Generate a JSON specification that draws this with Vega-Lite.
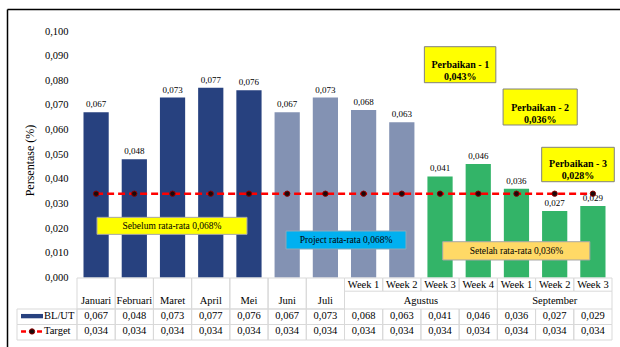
{
  "$schema": "https://vega.github.io/schema/vega-lite/v6.json",
  "width": 544,
  "height": 339,
  "autosize": {"type": "none"},
  "padding": {"left": 77, "top": 9, "right": 0, "bottom": 0},
  "background": "white",
  "config": {
    "view": {"stroke": null},
    "locale": {"number": {"decimal": ",", "thousands": ".", "grouping": [3], "currency": ["", ""]}},
    "text": {"font": "Liberation Serif", "color": "#000000"}
  },
  "datasets": {
    "main": [
      {"col": "Januari", "month": "Januari", "week": null, "phase": "Sebelum", "bl": 0.067, "target": 0.034},
      {"col": "Februari", "month": "Februari", "week": null, "phase": "Sebelum", "bl": 0.048, "target": 0.034},
      {"col": "Maret", "month": "Maret", "week": null, "phase": "Sebelum", "bl": 0.073, "target": 0.034},
      {"col": "April", "month": "April", "week": null, "phase": "Sebelum", "bl": 0.077, "target": 0.034},
      {"col": "Mei", "month": "Mei", "week": null, "phase": "Sebelum", "bl": 0.076, "target": 0.034},
      {"col": "Juni", "month": "Juni", "week": null, "phase": "Project", "bl": 0.067, "target": 0.034},
      {"col": "Juli", "month": "Juli", "week": null, "phase": "Project", "bl": 0.073, "target": 0.034},
      {"col": "Agustus Week 1", "month": "Agustus", "week": "Week 1", "phase": "Project", "bl": 0.068, "target": 0.034},
      {"col": "Agustus Week 2", "month": "Agustus", "week": "Week 2", "phase": "Project", "bl": 0.063, "target": 0.034},
      {"col": "Agustus Week 3", "month": "Agustus", "week": "Week 3", "phase": "Setelah", "bl": 0.041, "target": 0.034},
      {"col": "Agustus Week 4", "month": "Agustus", "week": "Week 4", "phase": "Setelah", "bl": 0.046, "target": 0.034},
      {"col": "September Week 1", "month": "September", "week": "Week 1", "phase": "Setelah", "bl": 0.036, "target": 0.034},
      {"col": "September Week 2", "month": "September", "week": "Week 2", "phase": "Setelah", "bl": 0.027, "target": 0.034},
      {"col": "September Week 3", "month": "September", "week": "Week 3", "phase": "Setelah", "bl": 0.029, "target": 0.034}
    ],
    "legend": [{"series": "BL/UT"}, {"series": "Target"}]
  },
  "resolve": {"scale": {"x": "independent", "y": "independent"}},
  "layer": [
    {
      "data": {"values": [{"frame": "border"}]},
      "mark": {"type": "point", "opacity": 0},
      "encoding": {
        "x": {"datum": 0, "type": "quantitative", "scale": {"domain": [0, 1], "range": [-70, 544], "nice": false, "zero": false},
              "axis": {"orient": "top", "domain": true, "domainColor": "#000000", "domainWidth": 1.5, "labels": false, "ticks": false, "grid": false, "title": null}},
        "y": {"datum": 0, "type": "quantitative", "scale": {"domain": [0, 1], "range": [0, 339], "nice": false, "zero": false},
              "axis": {"orient": "left", "offset": 70, "domain": true, "domainColor": "#000000", "domainWidth": 1.5, "labels": false, "ticks": false, "grid": false, "title": null}}
      }
    },
    {
      "data": {"name": "main"},
      "mark": {"type": "bar"},
      "encoding": {
        "x": {"field": "col", "type": "nominal", "sort": null, "axis": null, "scale": {"type": "band", "domain": ["Januari","Februari","Maret","April","Mei","Juni","Juli","Agustus Week 1","Agustus Week 2","Agustus Week 3","Agustus Week 4","September Week 1","September Week 2","September Week 3"], "range": [0, 535], "paddingInner": 0.34, "paddingOuter": 0.17}},
        "y": {
          "field": "bl", "type": "quantitative",
          "scale": {"domain": [0, 0.1], "range": [268.5, 22], "nice": false, "zero": true},
          "axis": {
            "orient": "left",
            "values": [0, 0.01, 0.02, 0.03, 0.04, 0.05, 0.06, 0.07, 0.08, 0.09, 0.1],
            "format": ".3f", "ticks": false, "domain": false, "grid": false,
            "labelFont": "Liberation Serif", "labelFontSize": 10.5, "labelColor": "#000000", "labelPadding": 9,
            "title": "Persentase (%)", "titleFont": "Liberation Serif", "titleFontSize": 12, "titleFontWeight": "normal", "titleColor": "#000000",
            "titleX": -47.5, "titleY": 151, "titleAngle": -90, "titleAlign": "center", "titleBaseline": "middle"
          }
        },
        "color": {"field": "phase", "type": "nominal", "legend": null, "scale": {"domain": ["Sebelum", "Project", "Setelah"], "range": ["#27417F", "#8392B3", "#33B468"]}}
      }
    },
    {
      "data": {"name": "main"},
      "layer": [
        {
          "mark": {"type": "rect", "fill": "transparent", "stroke": "#D9D9D9", "strokeWidth": 1},
          "encoding": {
            "x": {"field": "col", "type": "nominal", "sort": null, "axis": null, "scale": {"type": "band", "domain": ["Januari","Februari","Maret","April","Mei","Juni","Juli","Agustus Week 1","Agustus Week 2","Agustus Week 3","Agustus Week 4","September Week 1","September Week 2","September Week 3"], "range": [0, 535], "paddingInner": 0, "paddingOuter": 0}},
            "y": {"datum": 2, "type": "quantitative", "axis": null, "scale": {"domain": [0, 4], "range": [269, 331], "nice": false, "zero": false}},
            "y2": {"datum": 3}
          }
        },
        {
          "mark": {"type": "rect", "fill": "transparent", "stroke": "#D9D9D9", "strokeWidth": 1},
          "encoding": {
            "x": {"field": "col", "type": "nominal", "sort": null, "axis": null},
            "y": {"datum": 3, "type": "quantitative", "axis": null},
            "y2": {"datum": 4}
          }
        },
        {
          "transform": [{"filter": "datum.week == null"}],
          "mark": {"type": "rect", "fill": "transparent", "stroke": "#D9D9D9", "strokeWidth": 1},
          "encoding": {
            "x": {"field": "col", "type": "nominal", "sort": null, "axis": null},
            "y": {"datum": 0, "type": "quantitative", "axis": null},
            "y2": {"datum": 2}
          }
        },
        {
          "transform": [{"filter": "datum.week != null"}],
          "mark": {"type": "rect", "fill": "transparent", "stroke": "#D9D9D9", "strokeWidth": 1},
          "encoding": {
            "x": {"field": "col", "type": "nominal", "sort": null, "axis": null},
            "y": {"datum": 0, "type": "quantitative", "axis": null},
            "y2": {"datum": 0.85}
          }
        },
        {
          "transform": [{"filter": "datum.col == 'Agustus Week 4' || datum.col == 'September Week 3'"}],
          "mark": {"type": "rule", "stroke": "#D9D9D9", "strokeWidth": 1},
          "encoding": {
            "x": {"field": "col", "type": "nominal", "sort": null, "axis": null, "bandPosition": 1},
            "y": {"datum": 0.85, "type": "quantitative", "axis": null},
            "y2": {"datum": 2}
          }
        },
        {
          "transform": [{"filter": "datum.week != null"}],
          "mark": {"type": "text", "font": "Liberation Serif", "fontSize": 10.5, "baseline": "middle", "align": "center"},
          "encoding": {
            "x": {"field": "col", "type": "nominal", "sort": null, "axis": null},
            "y": {"datum": 0.45, "type": "quantitative", "axis": null},
            "text": {"field": "week"}
          }
        },
        {
          "transform": [{"filter": "datum.week == null"}],
          "mark": {"type": "text", "font": "Liberation Serif", "fontSize": 10.5, "baseline": "middle", "align": "center"},
          "encoding": {
            "x": {"field": "col", "type": "nominal", "sort": null, "axis": null},
            "y": {"datum": 1.5, "type": "quantitative", "axis": null},
            "text": {"field": "month"}
          }
        },
        {
          "mark": {"type": "text", "font": "Liberation Serif", "fontSize": 10.5, "baseline": "middle", "align": "center"},
          "encoding": {
            "x": {"field": "col", "type": "nominal", "sort": null, "axis": null},
            "y": {"datum": 2.48, "type": "quantitative", "axis": null},
            "text": {"field": "bl", "type": "quantitative", "format": ".3f"}
          }
        },
        {
          "mark": {"type": "text", "font": "Liberation Serif", "fontSize": 10.5, "baseline": "middle", "align": "center"},
          "encoding": {
            "x": {"field": "col", "type": "nominal", "sort": null, "axis": null},
            "y": {"datum": 3.45, "type": "quantitative", "axis": null},
            "text": {"field": "target", "type": "quantitative", "format": ".3f"}
          }
        }
      ]
    },
    {
      "data": {"name": "main"},
      "transform": [
        {"window": [{"op": "row_number", "as": "idx"}]},
        {"filter": "datum.week != null"},
        {"aggregate": [{"op": "mean", "field": "idx", "as": "mid"}], "groupby": ["month"]}
      ],
      "mark": {"type": "text", "font": "Liberation Serif", "fontSize": 10.5, "baseline": "middle", "align": "center"},
      "encoding": {
        "x": {"field": "mid", "type": "quantitative", "axis": null, "scale": {"domain": [0.5, 14.5], "range": [0, 535], "nice": false, "zero": false}},
        "y": {"datum": 1.5, "type": "quantitative", "axis": null, "scale": {"domain": [0, 4], "range": [269, 331], "nice": false, "zero": false}},
        "text": {"field": "month"}
      }
    },
    {
      "data": {"name": "legend"},
      "layer": [
        {
          "transform": [{"filter": "datum.series == 'BL/UT'"}],
          "mark": {"type": "rect", "fill": "transparent", "stroke": "#D9D9D9", "strokeWidth": 1},
          "encoding": {
            "x": {"datum": 0, "type": "quantitative", "axis": null, "scale": {"domain": [0, 1], "range": [-60, 0], "nice": false, "zero": false}},
            "x2": {"datum": 1},
            "y": {"datum": 2, "type": "quantitative", "axis": null, "scale": {"domain": [0, 4], "range": [269, 331], "nice": false, "zero": false}},
            "y2": {"datum": 3}
          }
        },
        {
          "transform": [{"filter": "datum.series == 'Target'"}],
          "mark": {"type": "rect", "fill": "transparent", "stroke": "#D9D9D9", "strokeWidth": 1},
          "encoding": {
            "x": {"datum": 0, "type": "quantitative", "axis": null},
            "x2": {"datum": 1},
            "y": {"datum": 3, "type": "quantitative", "axis": null},
            "y2": {"datum": 4}
          }
        },
        {
          "transform": [{"filter": "datum.series == 'BL/UT'"}],
          "mark": {"type": "rect", "fill": "#27417F"},
          "encoding": {
            "x": {"datum": 0.067, "type": "quantitative", "axis": null},
            "x2": {"datum": 0.433},
            "y": {"datum": 2.32, "type": "quantitative", "axis": null},
            "y2": {"datum": 2.6}
          }
        },
        {
          "transform": [{"filter": "datum.series == 'Target'"}],
          "mark": {"type": "rule", "stroke": "#FF0000", "strokeWidth": 2.5, "strokeDash": [5, 3]},
          "encoding": {
            "x": {"datum": 0.067, "type": "quantitative", "axis": null},
            "x2": {"datum": 0.433},
            "y": {"datum": 3.45, "type": "quantitative", "axis": null}
          }
        },
        {
          "transform": [{"filter": "datum.series == 'Target'"}],
          "mark": {"type": "point", "filled": true, "fill": "#1A0A0A", "stroke": "#8B0000", "strokeWidth": 1, "size": 28, "opacity": 1},
          "encoding": {
            "x": {"datum": 0.25, "type": "quantitative", "axis": null},
            "y": {"datum": 3.45, "type": "quantitative", "axis": null}
          }
        },
        {
          "transform": [{"filter": "datum.series == 'BL/UT'"}],
          "mark": {"type": "text", "font": "Liberation Serif", "fontSize": 10.5, "baseline": "middle", "align": "left"},
          "encoding": {
            "x": {"datum": 0.45, "type": "quantitative", "axis": null},
            "y": {"datum": 2.48, "type": "quantitative", "axis": null},
            "text": {"field": "series"}
          }
        },
        {
          "transform": [{"filter": "datum.series == 'Target'"}],
          "mark": {"type": "text", "font": "Liberation Serif", "fontSize": 10.5, "baseline": "middle", "align": "left"},
          "encoding": {
            "x": {"datum": 0.45, "type": "quantitative", "axis": null},
            "y": {"datum": 3.45, "type": "quantitative", "axis": null},
            "text": {"field": "series"}
          }
        }
      ]
    },
    {
      "data": {"name": "main"},
      "layer": [
        {
          "mark": {"type": "text", "font": "Liberation Serif", "fontSize": 9, "baseline": "middle", "align": "center", "dy": -8},
          "encoding": {
            "x": {"field": "col", "type": "nominal", "sort": null, "axis": null, "scale": {"type": "band", "domain": ["Januari","Februari","Maret","April","Mei","Juni","Juli","Agustus Week 1","Agustus Week 2","Agustus Week 3","Agustus Week 4","September Week 1","September Week 2","September Week 3"], "range": [0, 535], "paddingInner": 0.34, "paddingOuter": 0.17}},
            "y": {"field": "bl", "type": "quantitative", "axis": null, "scale": {"domain": [0, 0.1], "range": [268.5, 22], "nice": false, "zero": true}},
            "text": {"field": "bl", "type": "quantitative", "format": ".3f"}
          }
        },
        {
          "mark": {"type": "line", "stroke": "#FF0000", "strokeWidth": 2.5, "strokeDash": [7, 4]},
          "encoding": {
            "x": {"field": "col", "type": "nominal", "sort": null, "axis": null},
            "y": {"field": "target", "type": "quantitative", "axis": null}
          }
        },
        {
          "mark": {"type": "point", "filled": true, "fill": "#1A0A0A", "stroke": "#8B0000", "strokeWidth": 1, "size": 28, "opacity": 1},
          "encoding": {
            "x": {"field": "col", "type": "nominal", "sort": null, "axis": null},
            "y": {"field": "target", "type": "quantitative", "axis": null}
          }
        }
      ]
    },
    {
      "layer": [
        {
          "data": {"values": [{"label": "Sebelum rata-rata 0,068%"}]},
          "mark": {"type": "rect", "fill": "#FFFF00", "stroke": "#A6A6A6", "strokeWidth": 1},
          "encoding": {
            "x": {"datum": 0.523, "type": "quantitative", "axis": null, "scale": {"domain": [0, 14], "range": [0, 535], "nice": false, "zero": false}},
            "x2": {"datum": 4.449},
            "y": {"datum": 0.0244, "type": "quantitative", "axis": null, "scale": {"domain": [0, 0.1], "range": [268.5, 22], "nice": false, "zero": false}},
            "y2": {"datum": 0.0175}
          }
        },
        {
          "data": {"values": [{"label": "Sebelum rata-rata 0,068%"}]},
          "mark": {"type": "text", "font": "Liberation Serif", "fontSize": 9.5, "baseline": "middle", "align": "center"},
          "encoding": {
            "x": {"datum": 2.486, "type": "quantitative", "axis": null},
            "y": {"datum": 0.0209, "type": "quantitative", "axis": null},
            "text": {"field": "label"}
          }
        },
        {
          "data": {"values": [{"label": "Project rata-rata 0,068%"}]},
          "mark": {"type": "rect", "fill": "#00B0F0", "stroke": "#8FA8B8", "strokeWidth": 1},
          "encoding": {
            "x": {"datum": 5.469, "type": "quantitative", "axis": null},
            "x2": {"datum": 8.61},
            "y": {"datum": 0.01886, "type": "quantitative", "axis": null},
            "y2": {"datum": 0.01156}
          }
        },
        {
          "data": {"values": [{"label": "Project rata-rata 0,068%"}]},
          "mark": {"type": "text", "font": "Liberation Serif", "fontSize": 9.5, "baseline": "middle", "align": "center"},
          "encoding": {
            "x": {"datum": 7.04, "type": "quantitative", "axis": null},
            "y": {"datum": 0.0152, "type": "quantitative", "axis": null},
            "text": {"field": "label"}
          }
        },
        {
          "data": {"values": [{"label": "Setelah rata-rata 0,036%"}]},
          "mark": {"type": "rect", "fill": "#FFD966", "stroke": "#A6A6A6", "strokeWidth": 1},
          "encoding": {
            "x": {"datum": 9.57, "type": "quantitative", "axis": null},
            "x2": {"datum": 13.42},
            "y": {"datum": 0.01452, "type": "quantitative", "axis": null},
            "y2": {"datum": 0.0071}
          }
        },
        {
          "data": {"values": [{"label": "Setelah rata-rata 0,036%"}]},
          "mark": {"type": "text", "font": "Liberation Serif", "fontSize": 9.5, "baseline": "middle", "align": "center"},
          "encoding": {
            "x": {"datum": 11.5, "type": "quantitative", "axis": null},
            "y": {"datum": 0.0108, "type": "quantitative", "axis": null},
            "text": {"field": "label"}
          }
        },
        {
          "data": {"values": [{"label": "Perbaikan - 1\n0,043%"}]},
          "mark": {"type": "rect", "fill": "#FFFF00", "stroke": "#808080", "strokeWidth": 1},
          "encoding": {
            "x": {"datum": 9.09, "type": "quantitative", "axis": null},
            "x2": {"datum": 10.96},
            "y": {"datum": 0.09363, "type": "quantitative", "axis": null},
            "y2": {"datum": 0.07903}
          }
        },
        {
          "data": {"values": [{"label": "Perbaikan - 1\n0,043%"}]},
          "mark": {"type": "text", "font": "Liberation Serif", "fontSize": 10, "fontWeight": "bold", "baseline": "middle", "align": "center", "lineBreak": "\n", "lineHeight": 12},
          "encoding": {
            "x": {"datum": 10.03, "type": "quantitative", "axis": null},
            "y": {"datum": 0.0861, "type": "quantitative", "axis": null},
            "text": {"field": "label"}
          }
        },
        {
          "data": {"values": [{"label": "Perbaikan - 2\n0,036%"}]},
          "mark": {"type": "rect", "fill": "#FFFF00", "stroke": "#808080", "strokeWidth": 1},
          "encoding": {
            "x": {"datum": 11.15, "type": "quantitative", "axis": null},
            "x2": {"datum": 13.09},
            "y": {"datum": 0.07647, "type": "quantitative", "axis": null},
            "y2": {"datum": 0.06187}
          }
        },
        {
          "data": {"values": [{"label": "Perbaikan - 2\n0,036%"}]},
          "mark": {"type": "text", "font": "Liberation Serif", "fontSize": 10, "fontWeight": "bold", "baseline": "middle", "align": "center", "lineBreak": "\n", "lineHeight": 12},
          "encoding": {
            "x": {"datum": 12.12, "type": "quantitative", "axis": null},
            "y": {"datum": 0.0688, "type": "quantitative", "axis": null},
            "text": {"field": "label"}
          }
        },
        {
          "data": {"values": [{"label": "Perbaikan - 3\n0,028%"}]},
          "mark": {"type": "rect", "fill": "#FFFF00", "stroke": "#808080", "strokeWidth": 1},
          "encoding": {
            "x": {"datum": 12.16, "type": "quantitative", "axis": null},
            "x2": {"datum": 14.06},
            "y": {"datum": 0.05282, "type": "quantitative", "axis": null},
            "y2": {"datum": 0.03886}
          }
        },
        {
          "data": {"values": [{"label": "Perbaikan - 3\n0,028%"}]},
          "mark": {"type": "text", "font": "Liberation Serif", "fontSize": 10, "fontWeight": "bold", "baseline": "middle", "align": "center", "lineBreak": "\n", "lineHeight": 12},
          "encoding": {
            "x": {"datum": 13.11, "type": "quantitative", "axis": null},
            "y": {"datum": 0.04604, "type": "quantitative", "axis": null},
            "text": {"field": "label"}
          }
        }
      ]
    }
  ]
}
